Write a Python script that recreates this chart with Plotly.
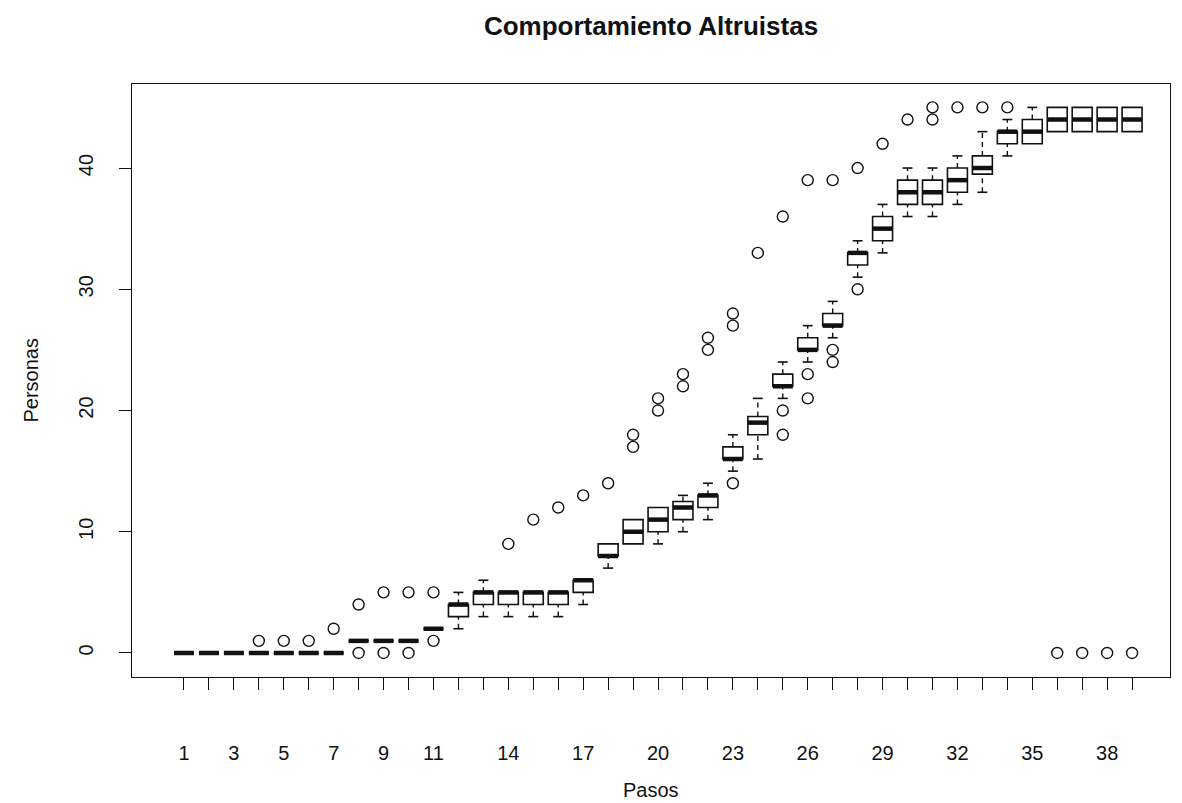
import plotly.graph_objects as go

# Simulation steps (one box per step)
steps = list(range(1, 40))

# Box statistics per step: lower whisker, first quartile, median, third quartile, upper whisker
whisker_low = [0, 0, 0, 0, 0, 0, 0, 1, 1, 1, 2, 2, 3, 3, 3, 3, 4, 7, 9, 9,
               10, 11, 15, 16, 21, 24, 26, 31, 33, 36, 36, 37, 38, 41, 42, 43, 43, 43, 43]
quart1 = [0, 0, 0, 0, 0, 0, 0, 1, 1, 1, 2, 3, 4, 4, 4, 4, 5, 8, 9, 10,
          11, 12, 16, 18, 22, 25, 27, 32, 34, 37, 37, 38, 39.5, 42, 42, 43, 43, 43, 43]
medians = [0, 0, 0, 0, 0, 0, 0, 1, 1, 1, 2, 4, 5, 5, 5, 5, 6, 8, 10, 11,
           12, 13, 16, 19, 22, 25, 27, 33, 35, 38, 38, 39, 40, 43, 43, 44, 44, 44, 44]
quart3 = [0, 0, 0, 0, 0, 0, 0, 1, 1, 1, 2, 4, 5, 5, 5, 5, 6, 9, 11, 12,
          12.5, 13, 17, 19.5, 23, 26, 28, 33, 36, 39, 39, 40, 41, 43, 44, 45, 45, 45, 45]
whisker_high = [0, 0, 0, 0, 0, 0, 0, 1, 1, 1, 2, 5, 6, 5, 5, 5, 6, 9, 11, 12,
                13, 14, 18, 21, 24, 27, 29, 34, 37, 40, 40, 41, 43, 44, 45, 45, 45, 45, 45]

# Outlying runs: step and number of people
outlier_step = [4, 5, 6, 7, 8, 8, 9, 9, 10, 10, 11, 11, 14, 15, 16, 17, 18, 19, 19,
                20, 20, 21, 21, 22, 22, 23, 23, 23, 24, 25, 25, 25, 26, 26, 26,
                27, 27, 27, 28, 28, 29, 30, 31, 31, 32, 33, 34, 36, 37, 38, 39]
outlier_value = [1, 1, 1, 2, 0, 4, 0, 5, 0, 5, 1, 5, 9, 11, 12, 13, 14, 17, 18,
                 20, 21, 22, 23, 25, 26, 14, 27, 28, 33, 18, 20, 36, 21, 23, 39,
                 24, 25, 39, 30, 40, 42, 44, 44, 45, 45, 45, 45, 0, 0, 0, 0]

# Axis labelling
x_tick_values = steps
x_tick_labels = ["1", "", "3", "", "5", "", "7", "", "9", "", "11", "", "", "14", "", "",
                 "17", "", "", "20", "", "", "23", "", "", "26", "", "", "29", "", "",
                 "32", "", "", "35", "", "", "38", ""]
y_tick_values = [0, 10, 20, 30, 40]

BOX_W = 0.8
STAPLE_HALF = BOX_W / 4
FONT = "Liberation Sans, Arial, sans-serif"
INK = "#111111"

fig = go.Figure()

# Boxes (quartile rectangles only; whiskers are drawn dashed below)
fig.add_trace(go.Box(
    x=steps, q1=quart1, median=medians, q3=quart3,
    lowerfence=quart1, upperfence=quart3,
    width=BOX_W, whiskerwidth=0, boxpoints=False,
    line=dict(color=INK, width=1.6), fillcolor="white",
    hoverinfo="skip", showlegend=False,
))

# Dashed whiskers
wx, wy = [], []
for s, lo, a, b, hi in zip(steps, whisker_low, quart1, quart3, whisker_high):
    if lo < a:
        wx += [s, s, None]
        wy += [lo, a, None]
    if hi > b:
        wx += [s, s, None]
        wy += [b, hi, None]
fig.add_trace(go.Scatter(x=wx, y=wy, mode="lines",
                         line=dict(color=INK, width=1.4, dash="5px,4px"),
                         hoverinfo="skip", showlegend=False))

# Whisker staples
sx, sy = [], []
for s, lo, a, b, hi in zip(steps, whisker_low, quart1, quart3, whisker_high):
    if lo < a:
        sx += [s - STAPLE_HALF, s + STAPLE_HALF, None]
        sy += [lo, lo, None]
    if hi > b:
        sx += [s - STAPLE_HALF, s + STAPLE_HALF, None]
        sy += [hi, hi, None]
fig.add_trace(go.Scatter(x=sx, y=sy, mode="lines",
                         line=dict(color=INK, width=1.6),
                         hoverinfo="skip", showlegend=False))

# Thick median bars
mx, my = [], []
for s, m in zip(steps, medians):
    mx += [s - BOX_W / 2, s + BOX_W / 2, None]
    my += [m, m, None]
fig.add_trace(go.Scatter(x=mx, y=my, mode="lines",
                         line=dict(color=INK, width=4.5),
                         hoverinfo="skip", showlegend=False))

# Outliers
fig.add_trace(go.Scatter(x=outlier_step, y=outlier_value, mode="markers",
                         marker=dict(symbol="circle-open", size=11,
                                     color=INK, line=dict(width=1.4)),
                         hoverinfo="skip", showlegend=False))

fig.update_layout(
    width=1182, height=803,
    margin=dict(l=132, r=12, t=84, b=126),
    paper_bgcolor="white", plot_bgcolor="white",
    font=dict(family=FONT, size=20, color=INK),
    title=dict(text="<b>Comportamiento Altruistas</b>",
               font=dict(family=FONT, size=26, color=INK),
               x=0.5, xref="paper", xanchor="center",
               y=1 - 26 / 803, yref="container", yanchor="middle"),
    annotations=[
        dict(text="Pasos", xref="paper", yref="paper", x=0.5, y=0,
             xanchor="center", yanchor="middle", yshift=-113,
             showarrow=False, font=dict(family=FONT, size=20, color=INK)),
        dict(text="Personas", xref="paper", yref="paper", x=0, y=0.5,
             xanchor="center", yanchor="middle", xshift=-102, textangle=-90,
             showarrow=False, font=dict(family=FONT, size=20, color=INK)),
    ],
)

fig.update_xaxes(
    type="linear", range=[-1.084, 40.52],
    tickmode="array", tickvals=x_tick_values, ticktext=x_tick_labels,
    ticks="outside", ticklen=12, tickcolor=INK, tickwidth=1.4,
    ticklabelstandoff=46,
    showgrid=False, zeroline=False,
    showline=True, linecolor=INK, linewidth=1.4, mirror=True,
)
fig.update_yaxes(
    range=[-1.98, 46.93],
    tickmode="array", tickvals=y_tick_values,
    ticks="outside", ticklen=12, tickcolor=INK, tickwidth=1.4,
    tickangle=-90, ticklabelstandoff=18,
    showgrid=False, zeroline=False,
    showline=True, linecolor=INK, linewidth=1.4, mirror=True,
)

fig.write_html("out.html")
